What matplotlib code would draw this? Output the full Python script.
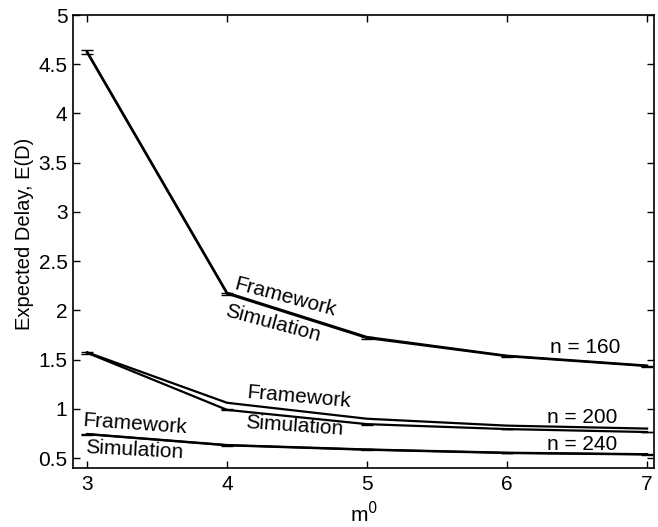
import matplotlib
matplotlib.use("Agg")
import matplotlib.pyplot as plt

plt.rcParams['font.family'] = ['Liberation Sans', 'DejaVu Sans']

m0 = [3, 4, 5, 6, 7]
fw_160 = [4.63, 2.18, 1.73, 1.54, 1.44]
sim_160 = [4.62, 2.17, 1.72, 1.535, 1.435]
err_160 = [0.02, 0.01, 0.01, 0.005, 0.005]
fw_200 = [1.575, 1.062, 0.90, 0.83, 0.80]
sim_200 = [1.57, 0.99, 0.845, 0.795, 0.765]
err_200 = [0.01, 0.005, 0.005, 0.004, 0.004]
fw_240 = [0.745, 0.633, 0.588, 0.555, 0.54]
sim_240 = [0.743, 0.630, 0.585, 0.552, 0.537]
err_240 = [0.004, 0.003, 0.003, 0.003, 0.003]

fig = plt.figure(figsize=(6.58, 5.27), dpi=100)
ax = fig.add_axes([0.111, 0.112, 0.883, 0.8595])

lw = 1.6
ax.plot(m0, fw_160, color='black', lw=lw)
ax.errorbar(m0, sim_160, yerr=err_160, color='black', lw=lw, capsize=4, elinewidth=1)
ax.plot(m0, fw_200, color='black', lw=lw)
ax.errorbar(m0, sim_200, yerr=err_200, color='black', lw=lw, capsize=4, elinewidth=1)
ax.plot(m0, fw_240, color='black', lw=lw)
ax.errorbar(m0, sim_240, yerr=err_240, color='black', lw=lw, capsize=4, elinewidth=1)

fs = 15
ax.text(4.414, 2.13, 'Framework', fontsize=fs, rotation=-15, ha='center', va='center')
ax.text(4.33, 1.865, 'Simulation', fontsize=fs, rotation=-15, ha='center', va='center')
ax.text(4.51, 1.115, 'Framework', fontsize=fs, rotation=-5, ha='center', va='center')
ax.text(4.48, 0.83, 'Simulation', fontsize=fs, rotation=-4, ha='center', va='center')
ax.text(3.34, 0.84, 'Framework', fontsize=fs, rotation=-4, ha='center', va='center')
ax.text(3.34, 0.585, 'Simulation', fontsize=fs, rotation=-3, ha='center', va='center')
ax.text(6.557, 1.625, 'n = 160', fontsize=fs, ha='center', va='center')
ax.text(6.54, 0.915, 'n = 200', fontsize=fs, ha='center', va='center')
ax.text(6.536, 0.64, 'n = 240', fontsize=fs, ha='center', va='center')

ax.set_xlim(2.9, 7.05)
ax.set_ylim(0.4, 5.0)
ax.set_xticks([3, 4, 5, 6, 7])
ax.set_yticks([0.5, 1, 1.5, 2, 2.5, 3, 3.5, 4, 4.5, 5])
ax.set_yticklabels(['0.5', '1', '1.5', '2', '2.5', '3', '3.5', '4', '4.5', '5'])
ax.tick_params(direction='in', top=True, right=True, length=5, labelsize=15, width=1)
ax.tick_params(axis='x', pad=5)
ax.tick_params(axis='y', pad=4)
for s in ax.spines.values():
    s.set_linewidth(1.2)
ax.set_xlabel('m$^0$', fontsize=15, labelpad=5)
ax.set_ylabel('Expected Delay, E(D)', fontsize=14.5)
ax.yaxis.set_label_coords(-0.067, 0.517)

fig.savefig('out.png', dpi=100)
